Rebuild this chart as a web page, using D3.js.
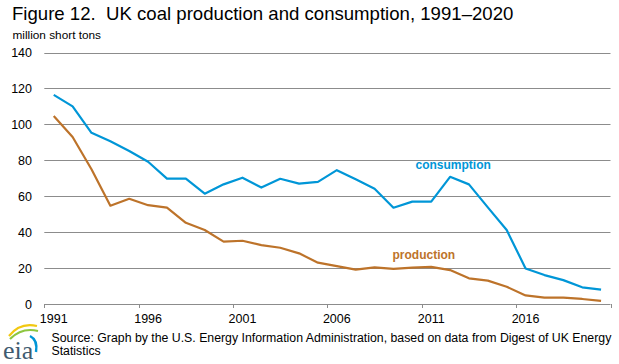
<html>
<head>
<meta charset="utf-8">
<script src="https://d3js.org/d3.v7.js"></script>
<style>
  body { margin: 0; background: #fff; }
  text { font-family: "Liberation Sans", Arial, sans-serif; white-space: pre; }
</style>
</head>
<body>
<svg width="619" height="364"></svg>
<script>
// data (million short tons)
var years = d3.range(1991, 2021);
var consumption = [116.4, 110, 95.3, 90.6, 85.2, 79.2, 69.8, 69.8, 61.4, 66.6,
                   70.3, 64.8, 69.7, 67, 68, 74.5, 69.4, 64.2, 53.6, 57,
                   57, 70.8, 66.6, 53.8, 41.2, 19.8, 16.1, 13.3, 9.3, 8];
var production = [104.7, 93, 75, 54.7, 58.6, 55, 53.6, 45.2, 41.2, 34.7,
                  35.2, 32.8, 31.3, 28.2, 23, 21.1, 19.1, 20.4, 19.6, 20.2,
                  20.7, 18.9, 14.3, 13, 9.6, 4.8, 3.5, 3.5, 2.8, 1.7];
var yTicks = [0, 20, 40, 60, 80, 100, 120, 140];
var xLabelYears = [1991, 1996, 2001, 2006, 2011, 2016];

var blue = "#0096d7", brown = "#bd732a", grid = "#8c8c8c";

var svg = d3.select("svg");

var x = d3.scaleBand().domain(years).range([44.3, 610.5]).padding(0);
var y = d3.scaleLinear().domain([0, 140]).range([304, 52.5]);
var half = x.bandwidth() / 2;

// title + unit
svg.append("text").attr("x", 12).attr("y", 19.5)
  .style("font-size", "18.6px").style("fill", "#000")
  .text("Figure 12.  UK coal production and consumption, 1991\u20132020");
svg.append("text").attr("x", 12.5).attr("y", 39)
  .style("font-size", "11.8px").style("fill", "#000")
  .text("million short tons");

// gridlines and y labels
var gy = svg.append("g");
gy.selectAll("line").data(yTicks.filter(function(d) { return d > 0; }))
  .enter().append("line")
  .attr("x1", 44.3).attr("x2", 610.5)
  .attr("y1", function(d) { return Math.round(y(d)) + 0.5; })
  .attr("y2", function(d) { return Math.round(y(d)) + 0.5; })
  .style("stroke", grid).style("stroke-width", 1);
gy.selectAll("text").data(yTicks).enter().append("text")
  .attr("x", 32).attr("y", function(d) { return y(d) + 4.5; })
  .attr("text-anchor", "end")
  .style("font-size", "12.5px").style("fill", "#000")
  .text(function(d) { return d; });

// x axis
var gx = svg.append("g");
gx.append("line").attr("x1", 44.3).attr("x2", 610.5)
  .attr("y1", 304.5).attr("y2", 304.5)
  .style("stroke", grid).style("stroke-width", 1);
var tickX = xLabelYears.map(function(d) { return x(d); }).concat([x.range()[1]]);
gx.selectAll("line.tick").data(tickX).enter().append("line")
  .attr("class", "tick")
  .attr("x1", function(d) { return Math.round(d) + 0.5; })
  .attr("x2", function(d) { return Math.round(d) + 0.5; })
  .attr("y1", 304).attr("y2", 308)
  .style("stroke", grid);
gx.selectAll("text").data(xLabelYears).enter().append("text")
  .attr("x", function(d) { return x(d) + half; }).attr("y", 323)
  .attr("text-anchor", "middle")
  .style("font-size", "12.5px").style("fill", "#000")
  .text(function(d) { return d; });

// lines
var line = d3.line()
  .x(function(d, i) { return x(years[i]) + half; })
  .y(function(d) { return y(d); });

svg.append("path").datum(consumption).attr("d", line)
  .style("fill", "none").style("stroke", blue).style("stroke-width", 2.2)
  .style("stroke-linejoin", "round");
svg.append("path").datum(production).attr("d", line)
  .style("fill", "none").style("stroke", brown).style("stroke-width", 2.2)
  .style("stroke-linejoin", "round");

// series labels
svg.append("text").attr("x", 415.5).attr("y", 169)
  .style("font-size", "12px").style("font-weight", "bold").style("fill", blue)
  .text("consumption");
svg.append("text").attr("x", 392.5).attr("y", 259)
  .style("font-size", "12px").style("font-weight", "bold").style("fill", brown)
  .text("production");

// source note
svg.append("text").attr("x", 51.5).attr("y", 342)
  .style("font-size", "12.3px").style("fill", "#000")
  .text("Source: Graph by the U.S. Energy Information Administration, based on data from Digest of UK Energy");
svg.append("text").attr("x", 51.5).attr("y", 355)
  .style("font-size", "12.3px").style("fill", "#000")
  .text("Statistics");

// eia logo
var logo = svg.append("g");
logo.append("path").attr("d", "M9,336 Q20,322 37,326")
  .style("fill", "none").style("stroke", "#f2c811").style("stroke-width", 2.2);
logo.append("path").attr("d", "M10,339 Q22,327 38,331")
  .style("fill", "none").style("stroke", "#8dc63f").style("stroke-width", 2.2);
logo.append("path").attr("d", "M30,336 Q38,340 36,352")
  .style("fill", "none").style("stroke", blue).style("stroke-width", 2.5);
logo.append("text").attr("x", 3).attr("y", 359)
  .style("font-family", "'Liberation Serif', 'DejaVu Serif', serif")
  .style("font-size", "26px").style("fill", "#3f5b70")
  .text("eia");
</script>
</body>
</html>
